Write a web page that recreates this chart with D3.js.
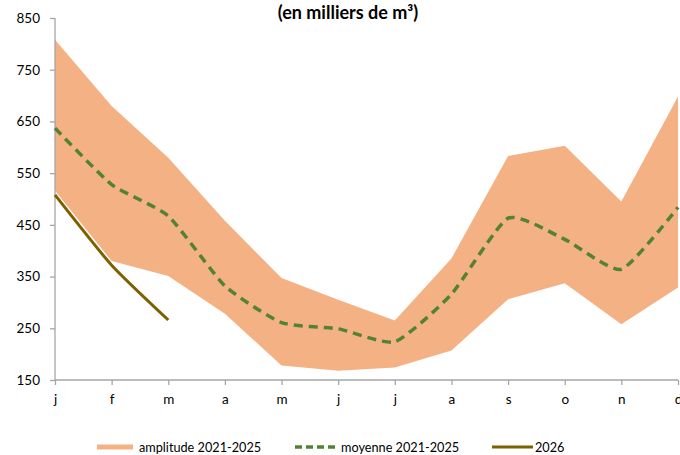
<!DOCTYPE html>
<html><head><meta charset="utf-8">
<script src="https://cdn.jsdelivr.net/npm/d3@7"></script>
<style>body{margin:0;background:#fff}svg{display:block}text{font-family:Lato,"Open Sans",sans-serif}</style>
</head><body><svg id="c" width="680" height="455"></svg>
<script>
const months = ["j","f","m","a","m","j","j","a","s","o","n","d"];
const upper = [808,680,580,458,347,305,265,385,583,603,495,698];
const lower = [516,380,351,278,178,168,174,207,306,337,258,329];
const mean  = [637,528,467,332,261,249,224,316,463,422,364,484];
const y2026 = [508,372,266];
const yTicks = [150,250,350,450,550,650,750,850];
const title = "(en milliers de m³)";
const legendLabels = ["amplitude 2021-2025","moyenne 2021-2025","2026"];

const svg = d3.select("#c");
const idx = months.map((_, i) => i);
const x = d3.scalePoint().domain(idx).range([55, 678]);
const y = d3.scaleLinear().domain([150, 850]).range([380, 18]);
const axisCol = "#A6A6A6";

svg.append("path")
  .datum(idx)
  .attr("fill", "#F4B183")
  .attr("d", d3.area().x(i => x(i)).y0(i => y(lower[i])).y1(i => y(upper[i])));

const yAx = svg.append("g").attr("transform", "translate(55,0)")
  .call(d3.axisLeft(y).tickValues(yTicks).tickSize(5).tickPadding(10));
const xAx = svg.append("g").attr("transform", "translate(0,380)")
  .call(d3.axisBottom(x).tickSize(5).tickPadding(9).tickFormat(i => months[i]));
[yAx, xAx].forEach(g => {
  g.selectAll("path,line").attr("stroke", axisCol).attr("stroke-width", 1.3);
  g.selectAll("text").attr("fill", "#000").style("font-size", "13.5px").style("font-family", "Lato, sans-serif");
});
yAx.select(".domain").attr("d", "M0,18V380");
xAx.select(".domain").attr("d", "M55,0H678");

const smooth = d3.curveCardinal.tension(0.45);
svg.append("path").datum(idx)
  .attr("fill", "none").attr("stroke", "#548235").attr("stroke-width", 3.5)
  .attr("stroke-dasharray", "9,6")
  .attr("d", d3.line().x(i => x(i)).y(i => y(mean[i])).curve(smooth));

svg.append("path").datum(y2026.map((v, i) => i))
  .attr("fill", "none").attr("stroke", "#7F6000").attr("stroke-width", 3)
  .attr("d", d3.line().x(i => x(i)).y(i => y(y2026[i])).curve(smooth));

svg.append("text").attr("x", 348).attr("y", 19).attr("text-anchor", "middle")
  .style("font-weight", "bold").style("font-size", "18px").text(title);

const lg = svg.append("g").style("font-size", "12.7px");
const items = [
  {x1: 97, x2: 133, tx: 139, stroke: "#F4B183", w: 5, dash: null},
  {x1: 295, x2: 337, tx: 341, stroke: "#548235", w: 3.5, dash: "7,4"},
  {x1: 492, x2: 533, tx: 535, stroke: "#7F6000", w: 3, dash: null}
];
items.forEach((it, k) => {
  lg.append("line").attr("x1", it.x1).attr("x2", it.x2).attr("y1", 447).attr("y2", 447)
    .attr("stroke", it.stroke).attr("stroke-width", it.w).attr("stroke-dasharray", it.dash);
  lg.append("text").attr("x", it.tx).attr("y", 452).text(legendLabels[k]);
});
</script></body></html>
